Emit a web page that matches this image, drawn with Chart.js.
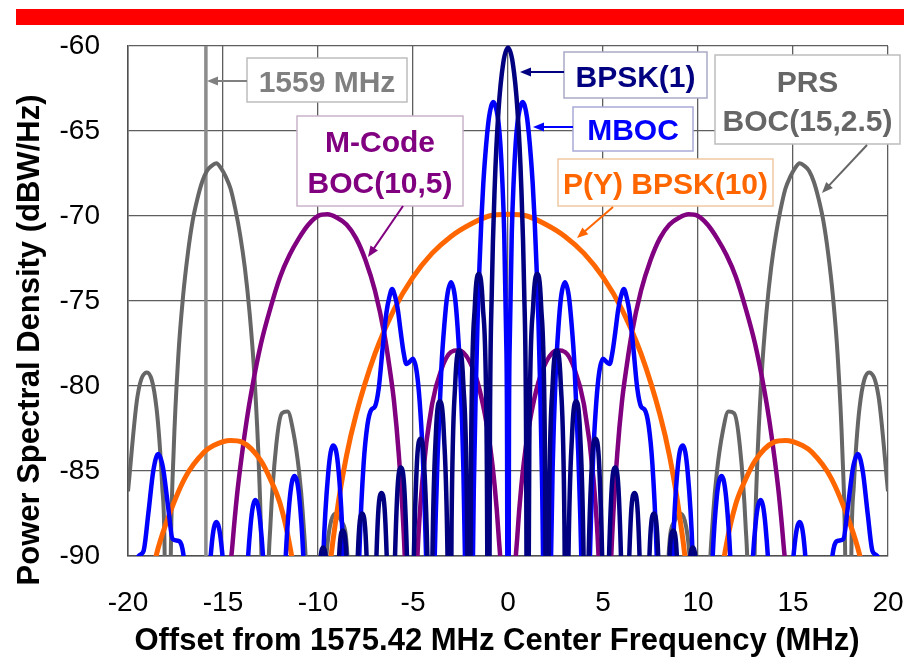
<!DOCTYPE html>
<html>
<head>
<meta charset="utf-8">
<title>GPS L1 signal power spectral densities</title>
<script src="https://cdn.jsdelivr.net/npm/chart.js@4.4.1/dist/chart.umd.min.js"></script>
<style>
  html, body { margin: 0; padding: 0; background: #ffffff; }
  #wrap { width: 910px; height: 659px; }
</style>
</head>
<body>
<div id="wrap"><canvas id="psd-chart" width="910" height="659"></canvas></div>
<script>
// Axis ticks
const xTicks = [-20, -15, -10, -5, 0, 5, 10, 15, 20];
const yTicks = [-90, -85, -80, -75, -70, -65, -60];

// BPSK(1) - C/A code (MHz offset, dBW/Hz)
const bpsk1Freq = [
  -10.23, -10.13, -9.93, -9.72, -9.52, -9.31,
  -9.21, -9.10, -8.90, -8.69, -8.49, -8.28,
  -8.18, -8.08, -7.88, -7.67, -7.47, -7.26,
  -7.16, -7.06, -6.86, -6.65, -6.45, -6.24,
  -6.14, -6.04, -5.84, -5.63, -5.43, -5.22,
  -5.12, -5.01, -4.81, -4.60, -4.40, -4.19,
  -4.09, -3.99, -3.79, -3.58, -3.38, -3.17,
  -3.07, -2.97, -2.77, -2.56, -2.36, -2.15,
  -2.05, -1.94, -1.74, -1.53, -1.33, -1.12,
  -1.02, -0.95, -0.85, -0.70, -0.50, -0.25,
  0,
  0.25, 0.50, 0.70, 0.85, 0.95, 1.02,
  1.12, 1.33, 1.53, 1.74, 1.94, 2.05,
  2.15, 2.36, 2.56, 2.77, 2.97, 3.07,
  3.17, 3.38, 3.58, 3.79, 3.99, 4.09,
  4.19, 4.40, 4.60, 4.81, 5.01, 5.12,
  5.22, 5.43, 5.63, 5.84, 6.04, 6.14,
  6.24, 6.45, 6.65, 6.86, 7.06, 7.16,
  7.26, 7.47, 7.67, 7.88, 8.08, 8.18,
  8.28, 8.49, 8.69, 8.90, 9.10, 9.21,
  9.31, 9.52, 9.72, 9.93, 10.13, 10.23
];
const bpsk1Psd = [
  -105, -99.7, -91.3, -89.5, -91.3, -99.7,
  -105, -98.7, -90.3, -88.5, -90.3, -98.7,
  -105, -97.7, -89.3, -87.5, -89.3, -97.7,
  -105, -96.5, -88.1, -86.3, -88.1, -96.5,
  -105, -95.0, -86.6, -84.8, -86.6, -95.0,
  -105, -93.3, -84.9, -83.1, -84.9, -93.3,
  -105, -91.1, -82.7, -80.9, -82.7, -91.1,
  -105, -88.1, -79.7, -77.9, -79.7, -88.1,
  -105, -83.6, -75.2, -73.4, -75.2, -83.6,
  -105, -82.5, -74.3, -68.3, -63.8, -61.0,
  -60.1,
  -61.0, -63.8, -68.3, -74.3, -82.5, -105,
  -83.6, -75.2, -73.4, -75.2, -83.6, -105,
  -88.1, -79.7, -77.9, -79.7, -88.1, -105,
  -91.1, -82.7, -80.9, -82.7, -91.1, -105,
  -93.3, -84.9, -83.1, -84.9, -93.3, -105,
  -95.0, -86.6, -84.8, -86.6, -95.0, -105,
  -96.5, -88.1, -86.3, -88.1, -96.5, -105,
  -97.7, -89.3, -87.5, -89.3, -97.7, -105,
  -98.7, -90.3, -88.5, -90.3, -98.7, -105,
  -99.7, -91.3, -89.5, -91.3, -99.7, -105
];

// MBOC
const mbocFreq = [
  -20.0, -19.95, -19.69, -19.44, -19.18, -18.93,
  -18.67, -18.41, -18.16, -17.90, -17.65, -17.39, -17.13, -16.88, -16.62, -16.37,
  -16.11, -15.86, -15.60, -15.35, -15.09, -14.83, -14.57, -14.32, -14.06, -13.81,
  -13.55, -13.30, -13.04, -12.79, -12.53, -12.28, -12.02, -11.76, -11.51, -11.25,
  -10.99, -10.74, -10.48, -10.23, -9.97, -9.72, -9.46, -9.21, -8.95, -8.70,
  -8.44, -8.18, -8.0, -7.8, -7.6, -7.4, -7.2, -7.0, -6.8, -6.6,
  -6.4, -6.25, -6.1, -5.95, -5.8, -5.65, -5.5, -5.35, -5.2, -5.0,
  -4.8, -4.65, -4.5, -4.4, -4.3, -4.15, -4.0, -3.9, -3.8, -3.7,
  -3.5, -3.35, -3.2, -3.0, -2.8, -2.65, -2.5, -2.35, -2.2, -2.05,
  -1.9, -1.8, -1.7, -1.6, -1.5, -1.4, -1.3, -1.2, -1.1, -1.0,
  -0.9, -0.78, -0.7, -0.6, -0.5, -0.4, -0.3, -0.2, -0.1, -0.05,
  0,
  0.05, 0.1, 0.2, 0.3, 0.4, 0.5, 0.6, 0.7, 0.78, 0.9,
  1.0, 1.1, 1.2, 1.3, 1.4, 1.5, 1.6, 1.7, 1.8, 1.9,
  2.05, 2.2, 2.35, 2.5, 2.65, 2.8, 3.0, 3.2, 3.35, 3.5,
  3.7, 3.8, 3.9, 4.0, 4.15, 4.3, 4.4, 4.5, 4.65, 4.8,
  5.0, 5.2, 5.35, 5.5, 5.65, 5.8, 5.95, 6.1, 6.25, 6.4,
  6.6, 6.8, 7.0, 7.2, 7.4, 7.6, 7.8, 8.0, 8.18, 8.44,
  8.70, 8.95, 9.21, 9.46, 9.72, 9.97, 10.23, 10.48, 10.74, 10.99,
  11.25, 11.51, 11.76, 12.02, 12.28, 12.53, 12.79, 13.04, 13.30, 13.55,
  13.81, 14.06, 14.32, 14.57, 14.83, 15.09, 15.35, 15.60, 15.86, 16.11,
  16.37, 16.62, 16.88, 17.13, 17.39, 17.65, 17.90, 18.16, 18.41, 18.67,
  18.93, 19.18, 19.44, 19.69, 19.95, 20.0
];
const mbocPsd = [
  -95.0, -94.0, -90.9, -90.0, -89.7, -87.5,
  -85.0, -84.0, -84.8, -87.0, -89.0, -89.1, -89.6, -92.8, -100.0, -110,
  -105.0, -94.2, -89.4, -88.0, -89.3, -93.5, -104.5, -110, -104.0, -93.0,
  -88.2, -86.7, -88.0, -92.3, -103.0, -110, -102.0, -91.6, -86.9, -85.3,
  -86.5, -90.9, -101.5, -110, -100.9, -90.0, -85.1, -83.5, -84.6, -89.1,
  -99.5, -110, -97.0, -89.1, -84.6, -82.3, -81.4, -81.2, -80.1, -77.8,
  -75.7, -74.8, -74.3, -74.7, -75.5, -76.8, -78.0, -78.7, -78.6, -78.4,
  -79.2, -80.9, -83.7, -86.5, -90.5, -97.0, -98.8, -92.0, -87.5, -84.0,
  -78.8, -76.4, -74.7, -73.9, -74.7, -76.6, -79.6, -84.8, -94.1, -110,
  -95.0, -86.1, -80.4, -76.1, -72.9, -70.2, -68.1, -66.5, -65.2, -64.2,
  -63.6, -63.3, -63.4, -63.8, -64.5, -65.8, -67.9, -71.0, -76.9, -82.8,
  -110,
  -82.8, -76.9, -71.0, -67.9, -65.8, -64.5, -63.8, -63.4, -63.3, -63.6,
  -64.2, -65.2, -66.5, -68.1, -70.2, -72.9, -76.1, -80.4, -86.1, -95.0,
  -110, -94.1, -84.8, -79.6, -76.6, -74.7, -73.9, -74.7, -76.4, -78.8,
  -84.0, -87.5, -92.0, -98.8, -97.0, -90.5, -86.5, -83.7, -80.9, -79.2,
  -78.4, -78.6, -78.7, -78.0, -76.8, -75.5, -74.7, -74.3, -74.8, -75.7,
  -77.8, -80.1, -81.2, -81.4, -82.3, -84.6, -89.1, -97.0, -110, -99.5,
  -89.1, -84.6, -83.5, -85.1, -90.0, -100.9, -110, -101.5, -90.9, -86.5,
  -85.3, -86.9, -91.6, -102.0, -110, -103.0, -92.3, -88.0, -86.7, -88.2,
  -93.0, -104.0, -110, -104.5, -93.5, -89.3, -88.0, -89.4, -94.2, -105.0,
  -110, -100.0, -92.8, -89.6, -89.1, -89.0, -87.0, -84.8, -84.0, -85.0,
  -87.5, -89.7, -90.0, -90.9, -94.0, -95.0
];

// P(Y) BPSK(10)
const pyFreq = [
  -20, -19.5, -19, -18.5, -18, -17, -16, -15.5, -14.6, -14, -13, -12.5, -12, -11.5, -11,
  -10.6, -10.23, -10, -9.5, -9, -8.5, -8, -7, -6, -5, -4, -3, -2, -1,
  0,
  1, 2, 3, 4, 5, 6, 7, 8, 8.5, 9, 9.5, 10, 10.23, 10.6,
  11, 11.5, 12, 12.5, 13, 14, 14.6, 15.5, 16, 17, 18, 18.5, 19, 19.5, 20
];
const pyPsd = [
  -102.7, -96.5, -92.5, -89.9, -88.1, -85.4, -83.9, -83.5, -83.2, -83.3, -84.4, -85.5, -86.9, -89.3, -93.1,
  -99.1, -115, -103.0, -92.3, -87.4, -84.1, -81.7, -78.1, -75.5, -73.6, -72.2, -71.2, -70.5, -70.0,
  -69.9,
  -70.0, -70.5, -71.2, -72.2, -73.6, -75.5, -78.1, -81.7, -84.1, -87.4, -92.3, -103.0, -115, -99.1,
  -93.1, -89.3, -86.9, -85.5, -84.4, -83.3, -83.2, -83.5, -83.9, -85.4, -88.1, -89.9, -92.5, -96.5, -102.7
];

// M-Code BOC(10,5)
const mcodeFreq = [
  -15.345, -14.8, -14.5, -14.25, -14.0, -13.75, -13.5, -13.0, -12.5, -12.0, -11.5, -11.0, -10.5, -10.0,
  -9.5, -9.0, -8.5, -8.0, -7.5, -7.0, -6.5, -6.25, -6.0, -5.75, -5.5, -5.4, -5.25, -5.115,
  -5.0, -4.8, -4.5, -4.0, -3.5, -3.0, -2.6, -2.0, -1.5, -1.0, -0.7, -0.5, -0.3,
  0,
  0.3, 0.5, 0.7, 1.0, 1.5, 2.0, 2.6, 3.0, 3.5, 4.0, 4.5, 4.8, 5.0,
  5.115, 5.25, 5.4, 5.5, 5.75, 6.0, 6.25, 6.5, 7.0, 7.5, 8.0, 8.5, 9.0, 9.5,
  10.0, 10.5, 11.0, 11.5, 12.0, 12.5, 13.0, 13.5, 13.75, 14.0, 14.25, 14.5, 14.8, 15.345
];
const mcodePsd = [
  -115, -93.7, -89.3, -86.3, -84.0, -82.0, -80.3, -77.5, -75.4, -73.6, -72.3, -71.3, -70.5, -70.0,
  -69.9, -70.1, -70.5, -71.3, -72.6, -74.4, -77.0, -78.8, -80.9, -84.0, -88.4, -91.1, -97.7, -115,
  -99.4, -90.9, -85.5, -81.1, -79.0, -78.0, -77.9, -78.6, -80.2, -83.1, -85.9, -88.7, -93.1,
  -115,
  -93.1, -88.7, -85.9, -83.1, -80.2, -78.6, -77.9, -78.0, -79.0, -81.1, -85.5, -90.9, -99.4,
  -115, -97.7, -91.1, -88.4, -84.0, -80.9, -78.8, -77.0, -74.4, -72.6, -71.3, -70.5, -70.1, -69.9,
  -70.0, -70.5, -71.3, -72.3, -73.6, -75.4, -77.5, -80.3, -82.0, -84.0, -86.3, -89.3, -93.7, -115
];

// PRS BOC(15,2.5)
const prsFreq = [
  -20.00, -19.50, -19.00, -18.50, -18.20, -18.08, -17.90,
  -17.75, -17.60, -17.35, -17.10, -16.85, -16.60, -16.35, -16.10, -15.85, -15.60, -15.35,
  -15.10, -14.85, -14.60, -14.35, -14.10, -13.85, -13.60, -13.35, -13.10, -12.98, -12.79,
  -12.65, -12.50, -12.20, -11.90, -11.60, -11.30, -11.00, -10.80, -10.50, -10.23,
  -9.95, -9.70, -9.50, -9.30, -9.05, -8.75, -8.45, -8.30,
  8.30, 8.45, 8.75, 9.05, 9.30, 9.50, 9.70, 9.95,
  10.23, 10.50, 10.80, 11.00, 11.30, 11.60, 11.90, 12.20, 12.50, 12.65,
  12.79, 12.98, 13.10, 13.35, 13.60, 13.85, 14.10, 14.35, 14.60, 14.85, 15.10,
  15.35, 15.60, 15.85, 16.10, 16.35, 16.60, 16.85, 17.10, 17.35, 17.60, 17.75,
  17.90, 18.08, 18.20, 18.50, 19.00, 19.50, 20.00
];
const prsPsd = [
  -86.2, -80.6, -79.2, -81.3, -85.9, -89.2, -110,
  -90.2, -83.9, -78.2, -74.7, -72.2, -70.3, -69.0, -68.0, -67.35, -67.05, -66.9,
  -67.2, -67.7, -68.4, -69.6, -71.1, -73.05, -75.7, -79.35, -85.1, -90.0, -110,
  -93.0, -88.1, -83.5, -81.6, -81.5, -82.7, -85.0, -87.5, -94.1, -110,
  -100, -92.5, -89.3, -87.9, -87.5, -88.0, -90.0, -100,
  -100, -90.0, -88.0, -87.5, -87.9, -89.3, -92.5, -100,
  -110, -94.1, -87.5, -85.0, -82.7, -81.5, -81.6, -83.5, -88.1, -93.0,
  -110, -90.0, -85.1, -79.35, -75.7, -73.05, -71.1, -69.6, -68.4, -67.7, -67.2,
  -66.9, -67.05, -67.35, -68.0, -69.0, -70.3, -72.2, -74.7, -78.2, -83.9, -90.2,
  -110, -89.2, -85.9, -81.3, -79.2, -80.6, -86.2
];

// 1559 MHz band edge marker
const edgeFreq = [-15.9, -15.9];
const edgePsd = [-60, -90];

const toPoints = (xs, ys) => xs.map((x, i) => ({ x: x, y: ys[i] }));

const FONT = "'Liberation Sans', Arial, Helvetica, sans-serif";

// text boxes with arrows pointing at the curves (canvas pixels)
const callouts = [
  { box: [247, 58, 160, 44], edge: '#bdbdbd', color: '#808080',
    lines: [['1559 MHz', 81]], arrow: [247, 81, 207, 81] },
  { box: [297, 116, 166, 90], edge: '#c9b3c9', color: '#800080',
    lines: [['M-Code', 141], ['BOC(10,5)', 182]], arrow: [403, 206, 368, 257] },
  { box: [564, 52, 143, 46], edge: '#a9a9c6', color: '#000080',
    lines: [['BPSK(1)', 76]], arrow: [564, 72, 520, 72] },
  { box: [573, 107, 120, 44], edge: '#a9a9d6', color: '#0000ff',
    lines: [['MBOC', 129]], arrow: [573, 127, 533, 127] },
  { box: [558, 159, 215, 47], edge: '#f0c9a4', color: '#ff6600',
    lines: [['P(Y) BPSK(10)', 183]], arrow: [613, 207, 577, 238] },
  { box: [715, 55, 185, 89], edge: '#bdbdbd', color: '#666666',
    lines: [['PRS', 81], ['BOC(15,2.5)', 120]], arrow: [867, 145, 822, 193] }
];

function drawArrow(ctx, x1, y1, x2, y2, color) {
  const a = Math.atan2(y2 - y1, x2 - x1);
  const len = 11, half = 4.5;
  ctx.strokeStyle = color;
  ctx.fillStyle = color;
  ctx.lineWidth = 2;
  ctx.beginPath();
  ctx.moveTo(x1, y1);
  ctx.lineTo(x2 - Math.cos(a) * len * 0.7, y2 - Math.sin(a) * len * 0.7);
  ctx.stroke();
  ctx.beginPath();
  ctx.moveTo(x2, y2);
  ctx.lineTo(x2 - len * Math.cos(a) + half * Math.sin(a), y2 - len * Math.sin(a) - half * Math.cos(a));
  ctx.lineTo(x2 - len * Math.cos(a) - half * Math.sin(a), y2 - len * Math.sin(a) + half * Math.cos(a));
  ctx.closePath();
  ctx.fill();
}

const decorPlugin = {
  id: 'decor',
  afterDraw(chart) {
    const ctx = chart.ctx;
    ctx.save();

    // red banner at top
    ctx.fillStyle = '#ff0000';
    ctx.fillRect(16, 9, 888, 16);

    // axis titles
    ctx.fillStyle = '#000000';
    ctx.textAlign = 'center';
    ctx.textBaseline = 'middle';
    ctx.font = 'bold 31px ' + FONT;
    ctx.fillText('Offset from 1575.42 MHz Center Frequency (MHz)', 497, 641);
    ctx.save();
    ctx.translate(30, 340);
    ctx.rotate(-Math.PI / 2);
    ctx.fillText('Power Spectral Density (dBW/Hz)', 0, 0);
    ctx.restore();

    // callout boxes
    callouts.forEach(c => {
      const [bx, by, bw, bh] = c.box;
      ctx.fillStyle = '#ffffff';
      ctx.fillRect(bx, by, bw, bh);
      ctx.strokeStyle = c.edge;
      ctx.lineWidth = 1.5;
      ctx.strokeRect(bx, by, bw, bh);
      ctx.fillStyle = c.color;
      ctx.font = 'bold 30px ' + FONT;
      ctx.textAlign = 'center';
      ctx.textBaseline = 'alphabetic';
      c.lines.forEach(([txt, cy]) => {
        ctx.fillText(txt, bx + bw / 2, cy + 30 * 0.36);
      });
      drawArrow(ctx, c.arrow[0], c.arrow[1], c.arrow[2], c.arrow[3], c.color);
    });

    ctx.restore();
  }
};

function curve(label, xs, ys, color, width, order) {
  return {
    label: label,
    data: toPoints(xs, ys),
    borderColor: color,
    backgroundColor: color,
    borderWidth: width,
    pointRadius: 0,
    fill: false,
    cubicInterpolationMode: 'monotone',
    capBezierPoints: false,
    clip: { left: 0, top: 3, right: 0, bottom: 0 },
    order: order
  };
}

const ctx = document.getElementById('psd-chart').getContext('2d');

new Chart(ctx, {
  type: 'line',
  data: {
    datasets: [
      curve('BPSK(1)', bpsk1Freq, bpsk1Psd, '#000080', 4.5, 1),
      curve('MBOC', mbocFreq, mbocPsd, '#0000ff', 4.5, 2),
      curve('P(Y) BPSK(10)', pyFreq, pyPsd, '#ff6600', 5, 3),
      curve('M-Code BOC(10,5)', mcodeFreq, mcodePsd, '#800080', 4.5, 4),
      curve('PRS BOC(15,2.5)', prsFreq, prsPsd, '#666666', 4, 5),
      {
        label: '1559 MHz',
        data: toPoints(edgeFreq, edgePsd),
        borderColor: '#8c8c8c',
        borderWidth: 3.5,
        pointRadius: 0,
        fill: false,
        clip: 0,
        order: 6
      }
    ]
  },
  options: {
    responsive: false,
    maintainAspectRatio: false,
    animation: false,
    events: [],
    layout: { padding: { left: 0, right: 22, top: 46, bottom: 0 } },
    plugins: {
      legend: { display: false },
      tooltip: { enabled: false },
      title: { display: false }
    },
    scales: {
      x: {
        type: 'linear',
        min: -20,
        max: 20,
        afterBuildTicks: s => { s.ticks = xTicks.map(v => ({ value: v })); },
        afterFit: s => { s.height = 103; s.paddingLeft = 0; s.paddingRight = 0; },
        ticks: {
          autoSkip: false,
          maxRotation: 0,
          padding: 30,
          color: '#000000',
          font: { family: FONT, size: 28 }
        },
        grid: { color: '#5e5e5e', lineWidth: 1.3, drawTicks: false },
        border: { color: '#505050', width: 1.5 }
      },
      y: {
        type: 'linear',
        min: -90,
        max: -60,
        afterBuildTicks: s => { s.ticks = yTicks.map(v => ({ value: v })); },
        afterFit: s => { s.width = 128; s.paddingTop = 0; s.paddingBottom = 0; },
        ticks: {
          autoSkip: false,
          padding: 28,
          color: '#000000',
          font: { family: FONT, size: 28 }
        },
        grid: { color: '#5e5e5e', lineWidth: 1.3, drawTicks: false },
        border: { color: '#505050', width: 1.5 }
      }
    }
  },
  plugins: [decorPlugin]
});
</script>
</body>
</html>
